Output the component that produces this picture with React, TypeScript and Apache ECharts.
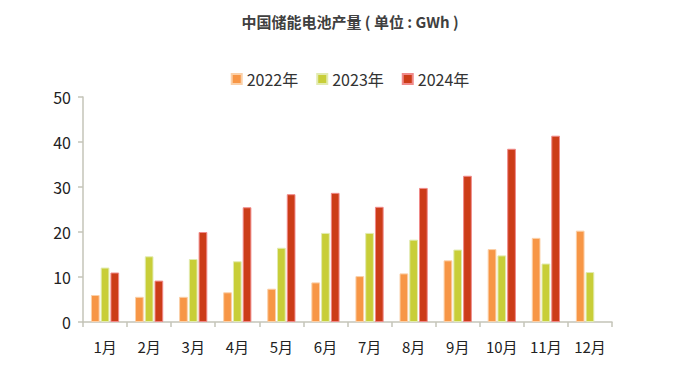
import React, { useEffect, useRef } from "react";
import * as echarts from "echarts";

const months = ["1月", "2月", "3月", "4月", "5月", "6月", "7月", "8月", "9月", "10月", "11月", "12月"];
const y2022 = [6.0, 5.6, 5.6, 6.6, 7.4, 8.8, 10.2, 10.8, 13.7, 16.2, 18.7, 20.3];
const y2023 = [12.1, 14.6, 14.0, 13.5, 16.5, 19.8, 19.8, 18.3, 16.1, 14.8, 13.0, 11.1];
const y2024 = [11.0, 9.2, 20.0, 25.5, 28.4, 28.7, 25.6, 29.8, 32.5, 38.5, 41.4, null];
const seriesNames = ["2022年", "2023年", "2024年"];
const colors = ["#F79646", "#C8CE38", "#CC3C18"];
const borderColors = ["#FBD0A8", "#E2EBB0", "#F08A8A"];

const FONT = "'Noto Sans CJK SC', 'Noto Sans', sans-serif";

export default function App() {
  const ref = useRef<HTMLDivElement>(null);
  useEffect(() => {
    if (!ref.current) return;
    const chart = echarts.init(ref.current, undefined, { renderer: "svg" });
    const data = [y2022, y2023, y2024];
    chart.setOption({
      animation: false,
      backgroundColor: "#ffffff",
      title: {
        text: "中国储能电池产量 ( 单位 : GWh )",
        left: "center",
        top: 9,
        textStyle: { fontFamily: FONT, fontSize: 15, fontWeight: "bold", color: "#404040" },
      },
      legend: {
        data: seriesNames,
        top: 66,
        left: "center",
        itemWidth: 10,
        itemHeight: 10,
        itemGap: 18,
        icon: "rect",
        textStyle: { fontFamily: FONT, fontSize: 16, color: "#333" },
      },
      grid: { left: 83, right: 88, top: 97, bottom: 54, containLabel: false },
      xAxis: {
        type: "category",
        data: months,
        axisLine: { lineStyle: { color: "#C4C4B8", width: 1.5 } },
        axisTick: { show: true, length: 5, lineStyle: { color: "#C4C4B8", width: 1.5 } },
        axisLabel: { fontFamily: FONT, fontSize: 15, color: "#222", margin: 17 },
      },
      yAxis: {
        type: "value",
        min: 0,
        max: 50,
        interval: 10,
        axisLine: { show: true, lineStyle: { color: "#C4C4B8", width: 1.5 } },
        axisTick: { show: true, length: 5, lineStyle: { color: "#C4C4B8", width: 1.5 } },
        splitLine: { show: false },
        axisLabel: { fontFamily: FONT, fontSize: 16, color: "#222", margin: 12 },
      },
      series: seriesNames.map((name, i) => ({
        name,
        type: "bar",
        data: data[i],
        barGap: "12%",
        barCategoryGap: "36%",
        itemStyle: { color: colors[i], borderColor: borderColors[i], borderWidth: 1 },
      })),
    });
    return () => chart.dispose();
  }, []);
  return <div ref={ref} style={{ width: 700, height: 376, position: "absolute", left: 0, top: 0 }} />;
}
